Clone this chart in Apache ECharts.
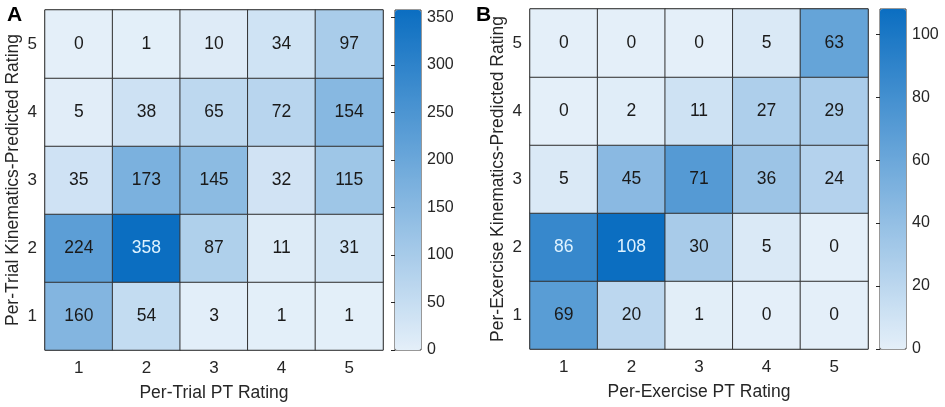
<!DOCTYPE html>
<html>
<head>
<meta charset="utf-8">
<script src="https://cdn.jsdelivr.net/npm/echarts@6/dist/echarts.min.js"></script>
<style>
html,body{margin:0;padding:0;background:#fff;}
#main{width:945px;height:407px;}
</style>
</head>
<body>
<div id="main"></div>
<script>
// Categories
var ptRatings = ['1', '2', '3', '4', '5'];
var predRatings = ['1', '2', '3', '4', '5'];
// Panel A: rows = predicted rating 1..5 (bottom to top), columns = PT rating 1..5
var trialPred1 = [160, 54, 3, 1, 1];
var trialPred2 = [224, 358, 87, 11, 31];
var trialPred3 = [35, 173, 145, 32, 115];
var trialPred4 = [5, 38, 65, 72, 154];
var trialPred5 = [0, 1, 10, 34, 97];
// Panel B
var exPred1 = [69, 20, 1, 0, 0];
var exPred2 = [86, 108, 30, 5, 0];
var exPred3 = [5, 45, 71, 36, 24];
var exPred4 = [0, 2, 11, 27, 29];
var exPred5 = [0, 0, 0, 5, 63];
// Colorbar ticks
var trialTicks = [0, 50, 100, 150, 200, 250, 300, 350];
var exTicks = [0, 20, 40, 60, 80, 100];

var trialRows = [trialPred1, trialPred2, trialPred3, trialPred4, trialPred5];
var exRows = [exPred1, exPred2, exPred3, exPred4, exPred5];

function toData(rows, max) {
  var out = [];
  rows.forEach(function (row, y) {
    row.forEach(function (v, x) {
      out.push({
        value: [x, y, v],
        label: { color: v / max > 0.7 ? '#dff3ff' : '#1a1a1a' }
      });
    });
  });
  return out;
}
function maxOf(rows) { return Math.max.apply(null, rows.map(function (r) { return Math.max.apply(null, r); })); }
var trialMax = maxOf(trialRows);
var exMax = maxOf(exRows);

var FONT = "'Liberation Sans', Arial, sans-serif";
var colors = ['#e4eff9', '#0b6ec1'];

function heatXAxis(gi, name) {
  return {
    type: 'category', gridIndex: gi, data: ptRatings, position: 'bottom',
    axisLine: { show: false }, axisTick: { show: false }, splitLine: { show: false },
    axisLabel: { fontFamily: FONT, fontSize: 17, color: '#262626', margin: 10 },
    name: name, nameLocation: 'middle', nameGap: 34,
    nameTextStyle: { fontFamily: FONT, fontSize: 17.5, color: '#262626' }
  };
}
function heatYAxis(gi, name, gap) {
  return {
    type: 'category', gridIndex: gi, data: predRatings,
    axisLine: { show: false }, axisTick: { show: false }, splitLine: { show: false },
    axisLabel: { fontFamily: FONT, fontSize: 17, color: '#262626', margin: 8 },
    name: name, nameLocation: 'middle', nameGap: gap, nameRotate: 90,
    nameTextStyle: { fontFamily: FONT, fontSize: 17.5, color: '#262626' }
  };
}
function barXAxis(gi) {
  return { type: 'value', gridIndex: gi, show: false, min: 0, max: 1 };
}
function barYAxis(gi, max, interval) {
  return {
    type: 'value', gridIndex: gi, position: 'right', min: 0, max: max, interval: interval,
    axisLine: { show: false },
    axisTick: { show: true, inside: true, length: 4, lineStyle: { color: '#262626' } },
    splitLine: { show: false },
    axisLabel: { fontFamily: FONT, fontSize: 16, color: '#262626', margin: 6, showMaxLabel: false }
  };
}

var chart = echarts.init(document.getElementById('main'), null, { renderer: 'canvas' });
chart.setOption({
  backgroundColor: '#fff',
  animation: false,
  title: [
    { text: 'A', left: 2, top: 0, textStyle: { fontFamily: FONT, fontSize: 21, fontWeight: 'bold', color: '#000' } },
    { text: 'B', left: 471, top: 0, textStyle: { fontFamily: FONT, fontSize: 21, fontWeight: 'bold', color: '#000' } }
  ],
  grid: [
    { left: 45, top: 10, width: 338, height: 340, show: true, borderColor: '#333', borderWidth: 1, backgroundColor: 'transparent' },
    { left: 530, top: 9, width: 338, height: 340, show: true, borderColor: '#333', borderWidth: 1, backgroundColor: 'transparent' },
    { left: 395, top: 10, width: 26, height: 340, show: true, borderColor: '#333', borderWidth: 1, backgroundColor: 'transparent' },
    { left: 880, top: 9, width: 26, height: 340, show: true, borderColor: '#333', borderWidth: 1, backgroundColor: 'transparent' }
  ],
  xAxis: [heatXAxis(0, 'Per-Trial PT Rating'), heatXAxis(1, 'Per-Exercise PT Rating'), barXAxis(2), barXAxis(3)],
  yAxis: [
    heatYAxis(0, 'Per-Trial Kinematics-Predicted Rating', 23),
    heatYAxis(1, 'Per-Exercise Kinematics-Predicted Rating', 23),
    barYAxis(2, trialMax, 50),
    barYAxis(3, exMax, 20)
  ],
  visualMap: [
    {
      type: 'continuous', seriesIndex: 0, min: 0, max: trialMax, calculable: false, hoverLink: false,
      orient: 'vertical', left: 395, top: 10, itemWidth: 26, itemHeight: 340, text: null,
      showLabel: false, inRange: { color: colors }, textStyle: { color: 'transparent' }, padding: 0
    },
    {
      type: 'continuous', seriesIndex: 1, min: 0, max: exMax, calculable: false, hoverLink: false,
      orient: 'vertical', left: 880, top: 9, itemWidth: 26, itemHeight: 340, text: null,
      showLabel: false, inRange: { color: colors }, textStyle: { color: 'transparent' }, padding: 0
    }
  ],
  series: [
    {
      type: 'heatmap', xAxisIndex: 0, yAxisIndex: 0, data: toData(trialRows, trialMax),
      label: { show: true, fontFamily: FONT, fontSize: 17.5, formatter: function (p) { return p.value[2]; } },
      itemStyle: { borderColor: '#333', borderWidth: 1 }
    },
    {
      type: 'heatmap', xAxisIndex: 1, yAxisIndex: 1, data: toData(exRows, exMax),
      label: { show: true, fontFamily: FONT, fontSize: 17.5, formatter: function (p) { return p.value[2]; } },
      itemStyle: { borderColor: '#333', borderWidth: 1 }
    }
  ]
});
</script>
</body>
</html>
